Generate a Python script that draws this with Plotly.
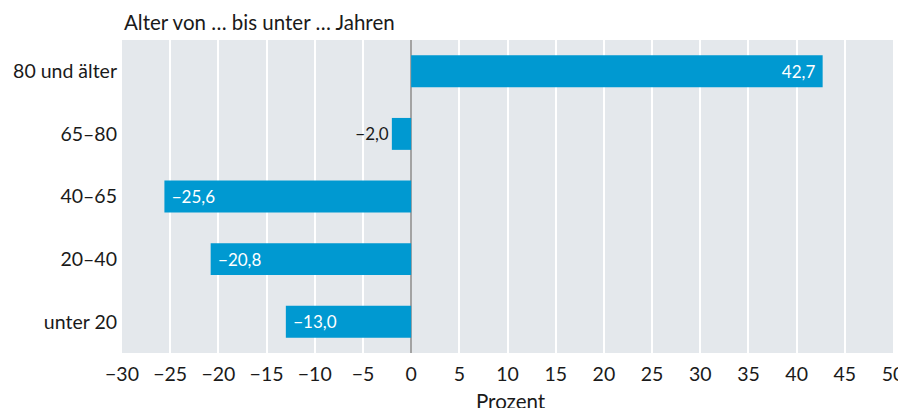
import plotly.graph_objects as go

categories = ["80 und älter", "65–80", "40–65", "20–40", "unter 20"]
values = [42.7, -2.0, -25.6, -20.8, -13.0]
label_positions = ["inside", "outside", "inside", "inside", "inside"]
x_ticks = list(range(-30, 55, 5))

def fmt(v, pos):
    s = f"{abs(v):.1f}".replace(".", ",")
    s = ("\u2212" + s) if v < 0 else s
    if pos == "inside":
        s = ("\u00a0" + s) if v < 0 else (s + "\u00a0")
    return s

labels = [fmt(v, p) for v, p in zip(values, label_positions)]
tick_text = [("\u2212" + str(abs(t))) if t < 0 else str(t) for t in x_ticks]

FONT = "Lato"
FS = 19.5
fig = go.Figure(go.Bar(
    y=categories, x=values, orientation="h",
    marker=dict(color="#0099d1", line=dict(width=0)),
    width=0.51,
    text=labels, textposition=label_positions,
    insidetextanchor="end",
    insidetextfont=dict(color="white", size=17, family=FONT),
    outsidetextfont=dict(color="#1a1a1a", size=17, family=FONT),
    constraintext="none", cliponaxis=False,
    hoverinfo="skip",
))

# page body has an 8px margin: compensate so the plot sits where the reference has it
fig.update_layout(
    width=898, height=400,
    margin=dict(l=114, r=13, t=32, b=55, autoexpand=False),
    paper_bgcolor="white", plot_bgcolor="#e4e8ec",
    font=dict(family=FONT, size=FS, color="#1a1a1a"),
    showlegend=False,
    bargap=0.49,
    xaxis=dict(
        range=[-30, 50], tickvals=x_ticks, ticktext=tick_text,
        showgrid=True, gridcolor="white", gridwidth=2,
        zeroline=True, zerolinecolor="#a3a3a3", zerolinewidth=2,
        ticks="", showline=False, automargin=False,
        ticklabelstandoff=7,
        tickfont=dict(size=FS),
        fixedrange=True,
    ),
    yaxis=dict(
        categoryorder="array", categoryarray=categories[::-1],
        showgrid=False, zeroline=False, ticks="", showline=False,
        automargin=False, ticklabelstandoff=4,
        tickfont=dict(size=FS),
        fixedrange=True,
    ),
    annotations=[
        dict(
            text="Alter von … bis unter … Jahren", x=0, y=1, xref="paper", yref="paper",
            xanchor="left", yanchor="bottom", yshift=4, xshift=0, showarrow=False,
            font=dict(size=20.5, family=FONT, color="#1a1a1a"),
        ),
        dict(
            text="Prozent", x=0.5, y=0, xref="paper", yref="paper",
            xanchor="center", yanchor="top", yshift=-34, xshift=3, showarrow=False,
            font=dict(size=20.5, family=FONT, color="#1a1a1a"),
        ),
    ],
)

fig.write_html("out.html")
